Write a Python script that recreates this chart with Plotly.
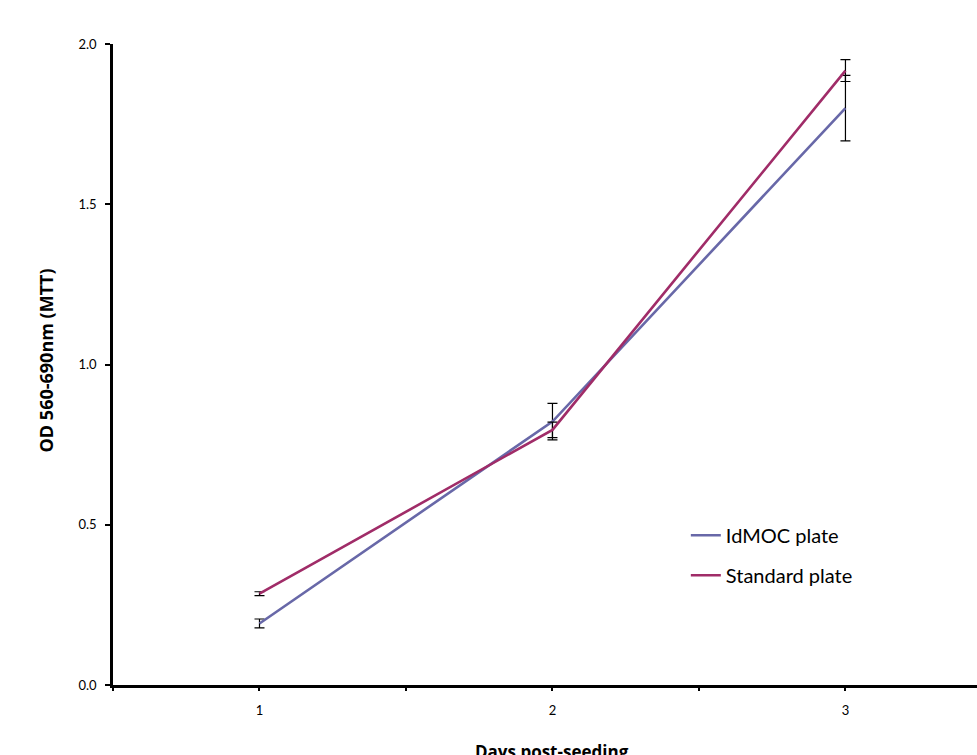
import plotly.graph_objects as go

days = [1, 2, 3]
idmoc = [0.192, 0.822, 1.80]
idmoc_err = [0.014, 0.057, 0.102]
standard = [0.285, 0.796, 1.917]
standard_err = [0.006, 0.024, 0.034]

blue = "rgb(104,104,168)"
maroon = "rgb(160,44,104)"

fig = go.Figure()
fig.add_trace(go.Scatter(
    x=days, y=idmoc, mode="lines", name="IdMOC plate", legendgroup="a",
    line=dict(color=blue, width=2.6),
    error_y=dict(type="data", array=idmoc_err, color="black", thickness=1.2, width=5),
))
fig.add_trace(go.Scatter(
    x=days, y=standard, mode="lines", name="Standard plate", legendgroup="b",
    line=dict(color=maroon, width=2.6),
    error_y=dict(type="data", array=standard_err, color="black", thickness=1.2, width=5),
))

tickvals = [0.5, 1, 1.5, 2, 2.5, 3, 3.5]
ticktext = ["" if v != int(v) else str(int(v)) for v in tickvals]

fig.update_layout(
    width=977, height=755,
    margin=dict(l=113, r=0, t=44, b=70),
    paper_bgcolor="white", plot_bgcolor="white",
    font=dict(family="Lato, Liberation Sans, sans-serif", color="black"),
    showlegend=True,
    legend=dict(x=0.663, y=0.264, xanchor="left", yanchor="top",
                font=dict(size=20, family="Lato"), itemwidth=30,
                bgcolor="rgba(0,0,0,0)", tracegroupgap=11),
    xaxis=dict(range=[0.5, 3.449], tickmode="array", tickvals=tickvals, ticktext=ticktext,
               showgrid=False, zeroline=False, showline=True, linecolor="black", linewidth=2.5,
               ticks="outside", ticklen=3, tickwidth=2, tickcolor="black",
               tickfont=dict(size=13), ticklabelstandoff=9),
    yaxis=dict(range=[0, 2], tickmode="array", tickvals=[0, 0.5, 1.0, 1.5, 2.0],
               ticktext=["0.0", "0.5", "1.0", "1.5", "2.0"],
               showgrid=False, zeroline=False, showline=True, linecolor="black", linewidth=2.5,
               ticks="outside", ticklen=5, tickwidth=2, tickcolor="black",
               tickfont=dict(size=13), ticklabelstandoff=6),
    annotations=[
        dict(text="<b>OD 560-690nm (MTT)</b>", xref="paper", yref="paper",
             x=-0.077, y=0.507, xanchor="center", yanchor="middle", textangle=-90,
             showarrow=False, font=dict(size=18, family="Open Sans")),
        dict(text="<b>Days post-seeding</b>", xref="x", yref="paper",
             x=2, y=-0.083, xanchor="center", yanchor="top",
             showarrow=False, font=dict(size=17, family="Open Sans")),
    ],
)

fig.write_html("out.html")
